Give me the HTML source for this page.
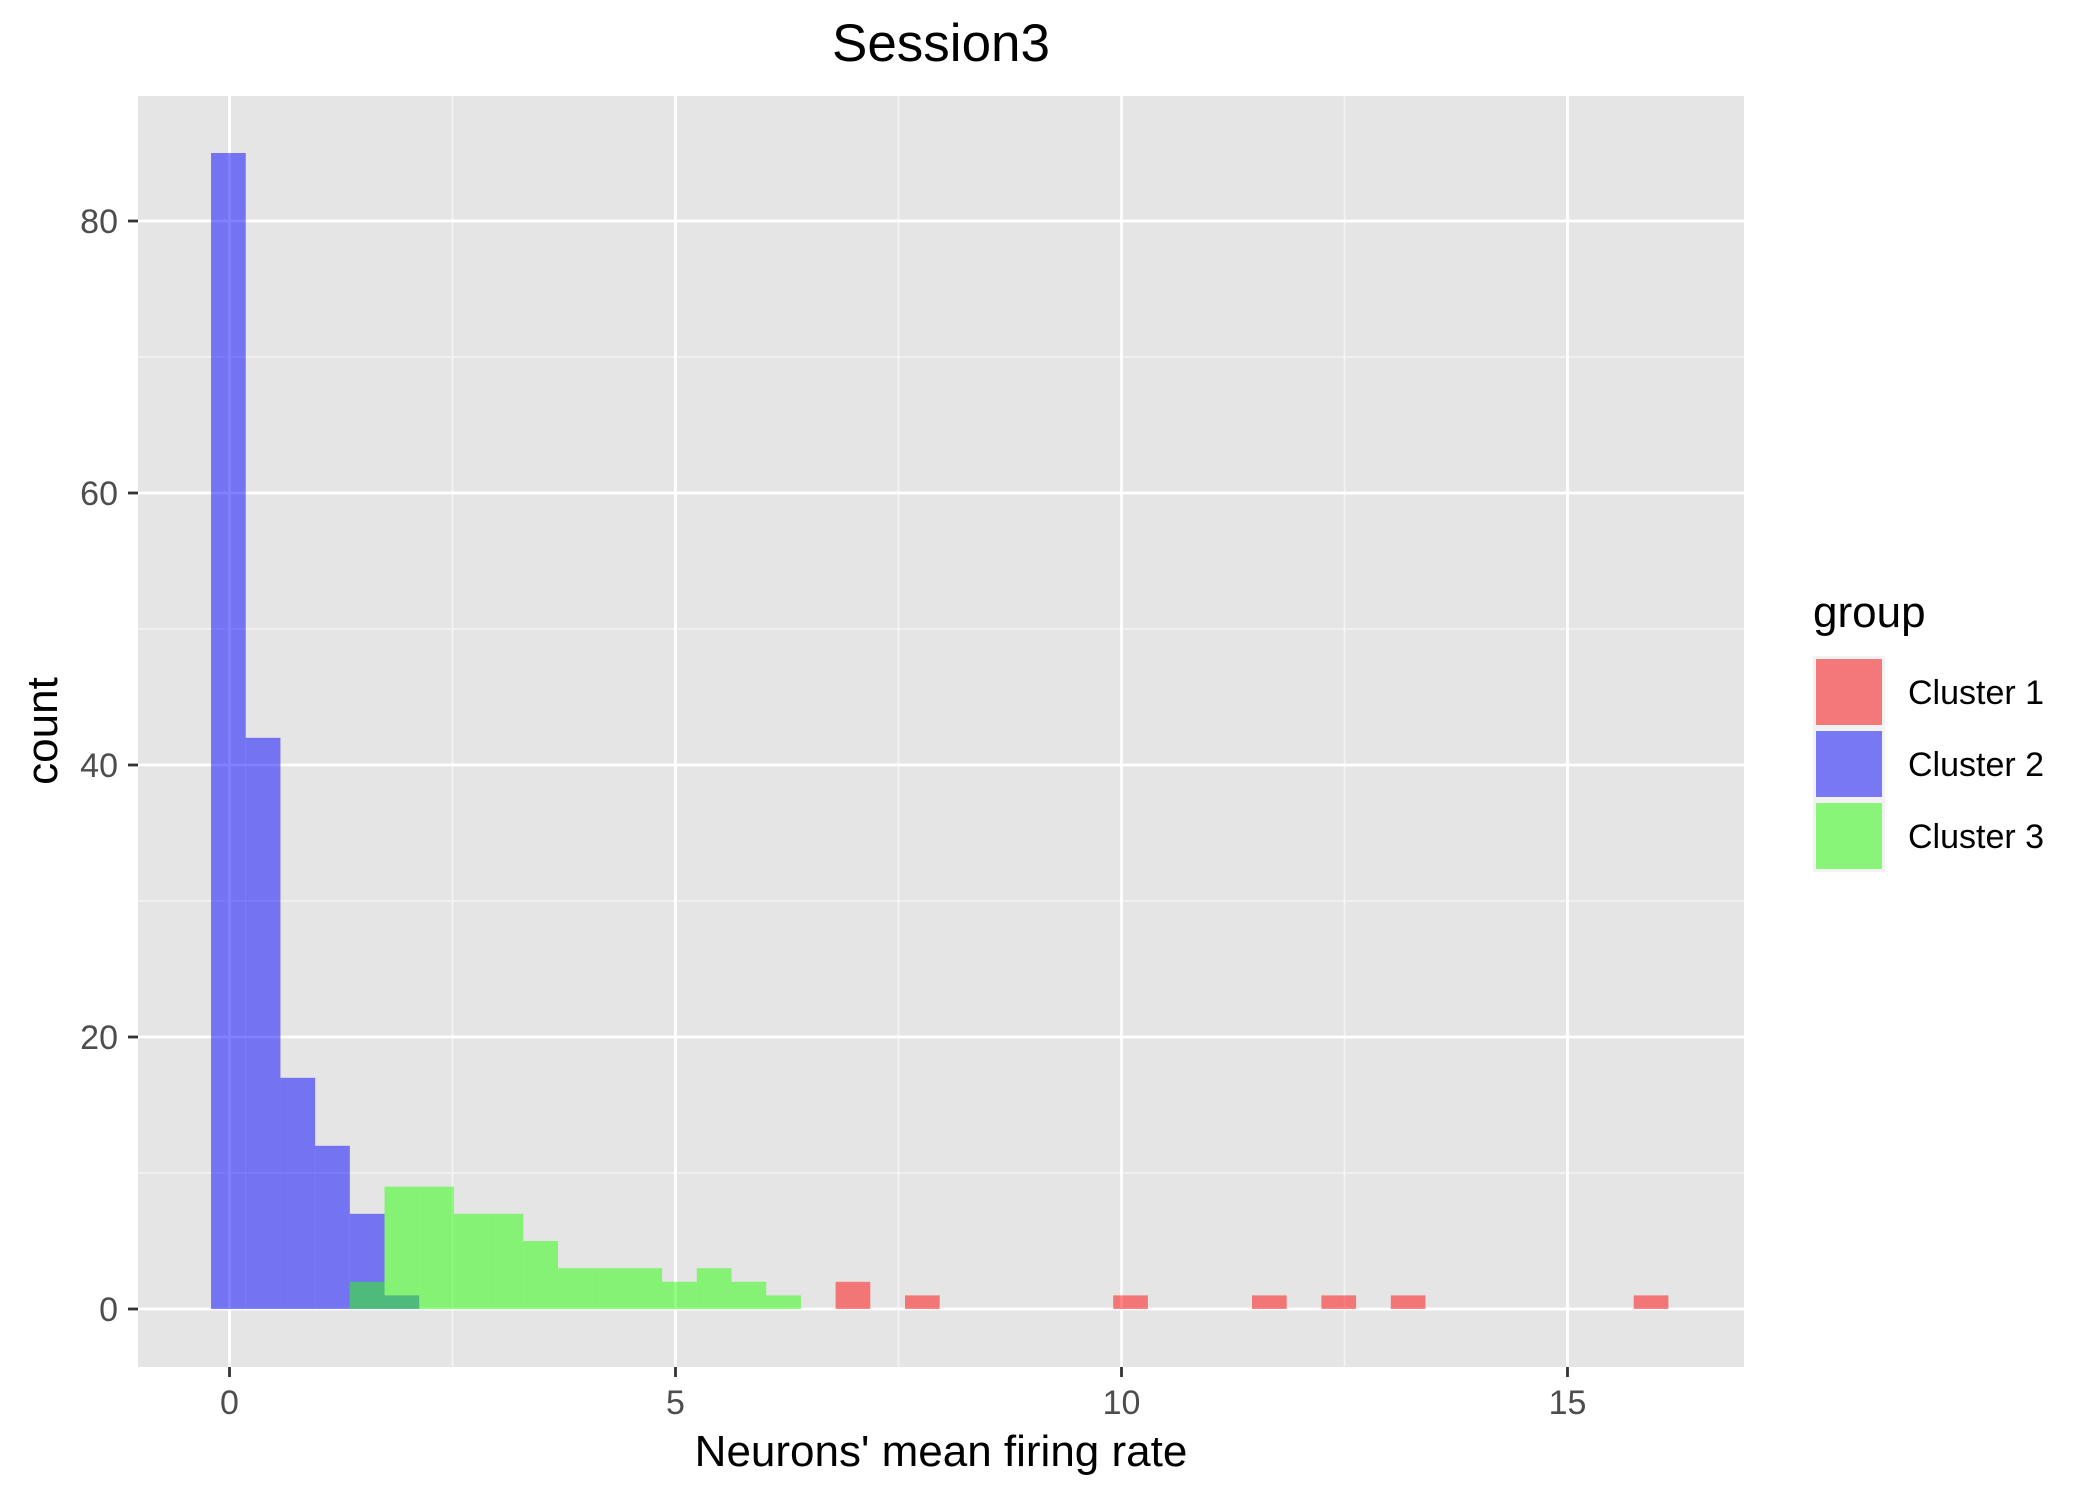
<!DOCTYPE html>
<html><head><meta charset="utf-8"><style>
html,body{margin:0;padding:0;background:#fff;}
svg{display:block;font-family:"Liberation Sans",Arial,sans-serif;}
</style></head><body>
<svg id="chart" width="2099" height="1499" viewBox="0 0 2099 1499" xmlns="http://www.w3.org/2000/svg">
<rect x="0" y="0" width="2099" height="1499" fill="#ffffff"/>
<text x="941" y="61" font-size="53" text-anchor="middle" fill="#000">Session3</text>
<rect x="138" y="96" width="1606" height="1271" fill="#e5e5e5"/>
<g id="grid"></g>
<g id="bars"></g>
<g id="axes"></g>
<text x="941" y="1466" font-size="44" text-anchor="middle" fill="#000">Neurons' mean firing rate</text>
<text x="57" y="731" font-size="44" text-anchor="middle" fill="#000" transform="rotate(-90 57 731)">count</text>
<g id="legend">
<text x="1813" y="627" font-size="44" fill="#000">group</text>
<rect x="1813" y="656" width="72" height="216" fill="#f2f2f2"/>
<rect x="1816" y="659" width="66" height="66" fill="#f47779"/>
<rect x="1816" y="731" width="66" height="66" fill="#7878f5"/>
<rect x="1816" y="803" width="66" height="66" fill="#88f578"/>
<text x="1908" y="704" font-size="34" fill="#000">Cluster 1</text>
<text x="1908" y="776" font-size="34" fill="#000">Cluster 2</text>
<text x="1908" y="848" font-size="34" fill="#000">Cluster 3</text>
</g>
</svg>
<script>
// data: bins start at binStart, width binWidth (in x units); counts per bin index
const binStart = -0.207;
const binWidth = 0.389;
const cluster2Bins = [0, 1, 2, 3, 4, 5];
const cluster2Counts = [85, 42, 17, 12, 7, 1];
const cluster3Bins = [4, 5, 6, 7, 8, 9, 10, 11, 12, 13, 14, 15, 16];
const cluster3Counts = [2, 9, 9, 7, 7, 5, 3, 3, 3, 2, 3, 2, 1];
const cluster1Bins = [18, 20, 26, 30, 32, 34, 41];
const cluster1Counts = [2, 1, 1, 1, 1, 1, 1];
const xTicks = [0, 5, 10, 15];
const xMinor = [2.5, 7.5, 12.5];
const yTicks = [0, 20, 40, 60, 80];
const yMinor = [10, 30, 50, 70];

const NS = 'http://www.w3.org/2000/svg';
const PL = 138, PR = 1744, PT = 96, PB = 1367;
const X0 = 229.5, XS = 89.2, Y0 = 1309, YS = 13.6;
function sx(v){ return X0 + v * XS; }
function sy(v){ return Y0 - v * YS; }
function mk(tag, attrs, parent){
  const e = document.createElementNS(NS, tag);
  for (const k in attrs) e.setAttribute(k, attrs[k]);
  parent.appendChild(e);
  return e;
}
const grid = document.getElementById('grid');
const bars = document.getElementById('bars');
const axes = document.getElementById('axes');

yMinor.forEach(v => {
  const l = mk('line', {x1: PL, x2: PR, y1: sy(v), y2: sy(v), stroke: '#f4f4f4', 'stroke-width': 1.6}, grid);
  
  
});
xMinor.forEach(v => {
  const l = mk('line', {x1: sx(v), x2: sx(v), y1: PT, y2: PB, stroke: '#f4f4f4', 'stroke-width': 1.6}, grid);
  
  
});
yTicks.forEach(v => {
  const l = mk('line', {x1: PL, x2: PR, y1: sy(v), y2: sy(v), stroke: '#ffffff', 'stroke-width': 2.8}, grid);
  
  
  const t = mk('line', {x1: PL - 10, x2: PL, y1: sy(v), y2: sy(v), stroke: '#333', 'stroke-width': 2.8}, axes);
  
  
  const tx = mk('text', {x: PL - 20, y: sy(v) + 12, 'font-size': 34, fill: '#4d4d4d', 'text-anchor': 'end'}, axes);
  tx.textContent = v;
  
  
});
xTicks.forEach(v => {
  const l = mk('line', {x1: sx(v), x2: sx(v), y1: PT, y2: PB, stroke: '#ffffff', 'stroke-width': 2.8}, grid);
  
  
  const t = mk('line', {x1: sx(v), x2: sx(v), y1: PB, y2: PB + 10, stroke: '#333', 'stroke-width': 2.8}, axes);
  
  
  const tx = mk('text', {x: sx(v), y: PB + 47, 'font-size': 34, fill: '#4d4d4d', 'text-anchor': 'middle'}, axes);
  tx.textContent = v;
  
  
});

function drawSeries(bins, counts, color, name){
  bins.forEach((b, i) => {
    const x1 = sx(binStart + b * binWidth), x2 = sx(binStart + (b + 1) * binWidth);
    const r = mk('rect', {x: x1, y: sy(counts[i]), width: x2 - x1, height: sy(0) - sy(counts[i]), fill: color, 'fill-opacity': 0.5}, bars);
    
    
  });
}
drawSeries(cluster1Bins, cluster1Counts, 'rgb(255,7,7)', 'cluster-1');
drawSeries(cluster2Bins, cluster2Counts, 'rgb(3,3,255)', 'cluster-2');
drawSeries(cluster3Bins, cluster3Counts, 'rgb(39,255,5)', 'cluster-3');
</script>
</body></html>
